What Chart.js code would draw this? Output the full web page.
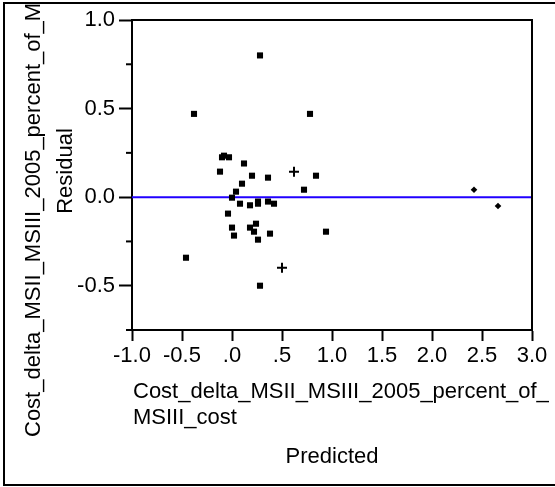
<!DOCTYPE html>
<html>
<head>
<meta charset="utf-8">
<script src="https://cdn.jsdelivr.net/npm/chart.js@4.4.0/dist/chart.umd.min.js"></script>
<style>
  body { margin: 0; background: #fff; }
  canvas { display: block; }
</style>
</head>
<body>
<canvas id="residChart" width="555" height="487"></canvas>
<script>
        // DATA
        let predSquare = [0.28, -0.38, 0.78, -0.10, -0.08, -0.03, 0.12, -0.12, 0.20, 0.36, 0.84, 0.72,
                          0.10, 0.04, 0.00, 0.08, 0.18, 0.26, 0.26, 0.36, 0.42, -0.04, 0.00, 0.02,
                          0.18, 0.24, 0.22, 0.26, 0.38, 0.94, -0.46, 0.28];
        let residSquare = [0.80, 0.47, 0.47, 0.225, 0.234, 0.225, 0.19, 0.144, 0.121, 0.11, 0.121, 0.042,
                           0.076, 0.031, -0.003, -0.037, -0.046, -0.025, -0.037, -0.025, -0.037, -0.093, -0.172, -0.217,
                           -0.172, -0.15, -0.195, -0.24, -0.206, -0.195, -0.342, -0.50];
        let predPlus = [0.62, 0.50];
        let residPlus = [0.144, -0.398];
        let predDiamond = [2.42, 2.66];
        let residDiamond = [0.042, -0.05];
        let zeroLineX = [-1, 3];
        let zeroLineY = [0, 0];

        let xTickValues = [-1, -0.5, 0, 0.5, 1, 1.5, 2, 2.5, 3];
        let xTickLabels = ['-1.0', '-0.5', '.0', '.5', '1.0', '1.5', '2.0', '2.5', '3.0'];
        let yTickValues = [-0.5, 0, 0.5, 1];
        let yTickLabels = ['-0.5', '0.0', '0.5', '1.0'];
        let yMinorTicks = [-0.75, -0.25, 0.25, 0.75];

        let xTitleLines = ['Cost_delta_MSII_MSIII_2005_percent_of_', 'MSIII_cost'];
        let xTitleSub = 'Predicted';
        let yTitle = 'Cost_delta_MSII_MSIII_2005_percent_of_MSIII_cost';
        let yTitleSub = 'Residual';

        let fontFamily = '"Liberation Sans", Arial, sans-serif';

        function toPoints(xs, ys) {
            let pts = [];
            for (i = 0; i < xs.length; i++) {
                pts.push({ x: xs[i], y: ys[i] });
            }
            return pts;
        }

        // frame, minor ticks, border and axis titles
        const framePlugin = {
            id: 'frame',
            afterDraw(chart) {
                const ctx = chart.ctx;
                const a = chart.chartArea;
                const ys = chart.scales.y;
                ctx.save();
                ctx.strokeStyle = '#000';
                ctx.lineWidth = 2;
                ctx.beginPath();
                ctx.moveTo(a.left, a.top);
                ctx.lineTo(a.right, a.top);
                ctx.lineTo(a.right, a.bottom);
                ctx.stroke();

                for (i = 0; i < yMinorTicks.length; i++) {
                    let py = ys.getPixelForValue(yMinorTicks[i]);
                    ctx.beginPath();
                    ctx.moveTo(a.left - 6, py);
                    ctx.lineTo(a.left, py);
                    ctx.stroke();
                }

                // outer box
                ctx.beginPath();
                ctx.moveTo(555, 3);
                ctx.lineTo(4, 3);
                ctx.lineTo(4, 485);
                ctx.lineTo(555, 485);
                ctx.stroke();

                ctx.fillStyle = '#000';
                ctx.font = '22px ' + fontFamily;
                ctx.textBaseline = 'alphabetic';
                ctx.textAlign = 'left';
                ctx.fillText(xTitleLines[0], a.left + 1, 398);
                ctx.fillText(xTitleLines[1], a.left + 1, 424);
                ctx.textAlign = 'center';
                ctx.fillText(xTitleSub, (a.left + a.right) / 2, 463);

                ctx.save();
                ctx.beginPath();
                ctx.rect(5, 4, 550, 480);
                ctx.clip();
                ctx.translate(40, 437);
                ctx.rotate(-Math.PI / 2);
                ctx.textAlign = 'left';
                ctx.fillText(yTitle, 0, 0);
                ctx.restore();

                ctx.save();
                ctx.translate(72, 171);
                ctx.rotate(-Math.PI / 2);
                ctx.textAlign = 'center';
                ctx.fillText(yTitleSub, 0, 0);
                ctx.restore();
                ctx.restore();
            }
        };

        let residCtx = document.getElementById('residChart').getContext('2d');
        let residChart = new Chart(residCtx, {
            type: 'scatter',
            data: {
                datasets: [{
                    label: 'Rows',
                    data: toPoints(predSquare, residSquare),
                    pointStyle: 'rect',
                    pointRadius: 4.3,
                    backgroundColor: '#000',
                    borderColor: '#000',
                    borderWidth: 0,
                    order: 1
                },
                {
                    label: 'Excluded',
                    data: toPoints(predPlus, residPlus),
                    pointStyle: 'cross',
                    pointRadius: 5,
                    borderColor: '#000',
                    borderWidth: 2,
                    order: 1
                },
                {
                    label: 'Other',
                    data: toPoints(predDiamond, residDiamond),
                    pointStyle: 'rectRot',
                    pointRadius: 3.3,
                    backgroundColor: '#000',
                    borderColor: '#000',
                    borderWidth: 0,
                    order: 1
                },
                {
                    type: 'line',
                    label: 'Zero',
                    data: toPoints(zeroLineX, zeroLineY),
                    borderColor: 'rgb(32, 0, 255)',
                    borderWidth: 2,
                    pointRadius: 0,
                    order: 2
                }
                ]
            },
            options: {
                responsive: false,
                animation: false,
                layout: { padding: { top: 20, right: 23, left: 0, bottom: 0 } },
                plugins: {
                    legend: { display: false },
                    tooltip: { enabled: false }
                },
                scales: {
                    x: {
                        type: 'linear',
                        min: -1,
                        max: 3,
                        afterFit(scale) { scale.height = 157; },
                        afterBuildTicks(scale) { scale.ticks = xTickValues.map(v => ({ value: v })); },
                        ticks: {
                            color: '#000',
                            font: { family: fontFamily, size: 22 },
                            padding: 2,
                            maxRotation: 0,
                            autoSkip: false,
                            callback: function (value) {
                                let idx = xTickValues.indexOf(value);
                                return idx >= 0 ? xTickLabels[idx] : '';
                            }
                        },
                        grid: {
                            drawOnChartArea: false,
                            drawTicks: true,
                            tickLength: 11,
                            tickColor: '#000',
                            tickWidth: 2
                        },
                        border: { display: true, color: '#000', width: 2 }
                    },
                    y: {
                        type: 'linear',
                        min: -0.75,
                        max: 1,
                        afterFit(scale) { scale.width = 132; },
                        afterBuildTicks(scale) { scale.ticks = yTickValues.map(v => ({ value: v })); },
                        ticks: {
                            color: '#000',
                            font: { family: fontFamily, size: 22 },
                            padding: 4,
                            autoSkip: false,
                            callback: function (value) {
                                let idx = yTickValues.indexOf(value);
                                return idx >= 0 ? yTickLabels[idx] : '';
                            }
                        },
                        grid: {
                            drawOnChartArea: false,
                            drawTicks: true,
                            tickLength: 13,
                            tickColor: '#000',
                            tickWidth: 2
                        },
                        border: { display: true, color: '#000', width: 2 }
                    }
                }
            },
            plugins: [framePlugin]
        });
</script>
</body>
</html>
